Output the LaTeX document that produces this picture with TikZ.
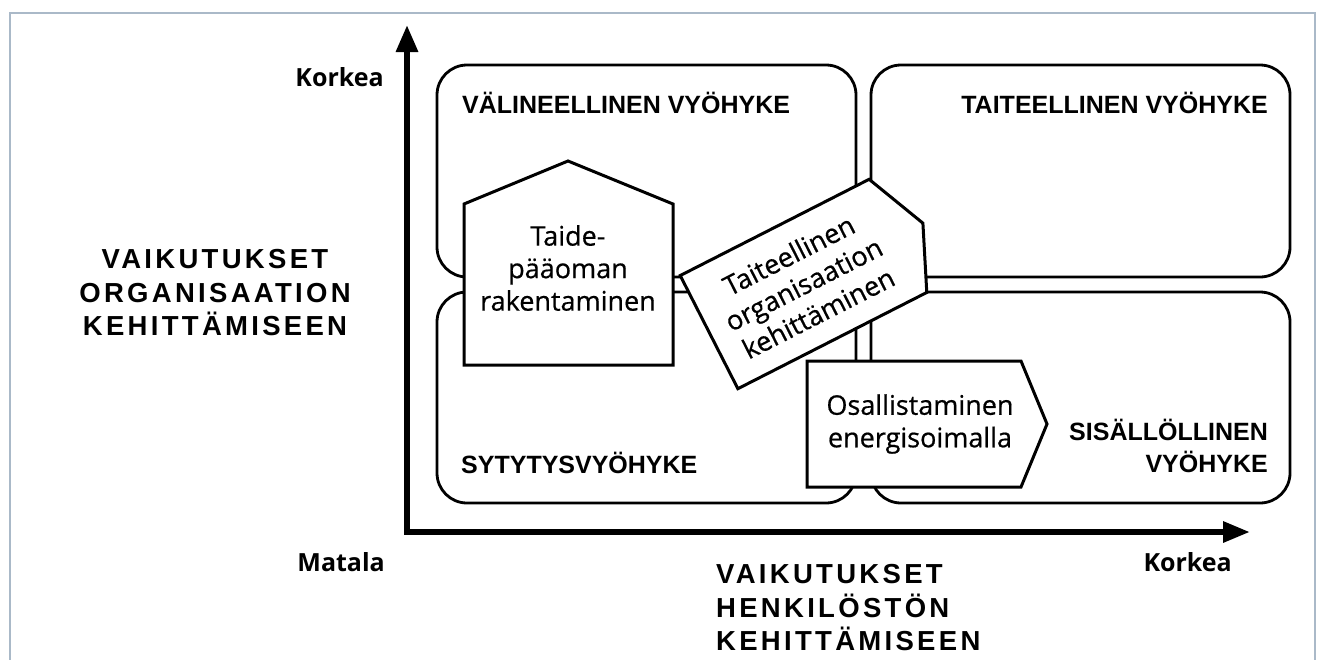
\documentclass[tikz,border=0pt]{standalone}
\usepackage{fontspec}
\setmainfont[FakeBold=0.6]{Open Sans}
\newfontfamily\labfont{Open Sans}
\newfontfamily\zonefont{Liberation Sans}
\newfontfamily\spacedfont[LetterSpace=12]{Liberation Sans}
\usetikzlibrary{arrows.meta}
\definecolor{framegray}{RGB}{170,185,200}
\begin{document}
\begin{tikzpicture}[x=1pt,y=-1pt,
  zone/.style={draw=black, line width=2.8pt, rounded corners=30pt, inner sep=0pt},
  shapebox/.style={draw=black, line width=3pt, fill=white, line join=miter},
  zonelabel/.style={font=\zonefont\bfseries\fontsize{25}{32}\selectfont, inner sep=0pt},
  bodytext/.style={font=\fontsize{27}{32.5}\selectfont, align=center, inner sep=0pt},
  axislabel/.style={font=\labfont\bfseries\fontsize{25}{30}\selectfont, inner sep=0pt},
  axistitle/.style={font=\spacedfont\bfseries\fontsize{27.5}{33.5}\selectfont, inner sep=0pt},
  axis/.style={line width=6pt, line join=miter, {Triangle[length=27pt,width=21pt]}-{Triangle[length=27pt,width=20pt]}}
]
\useasboundingbox (0,0) rectangle (1319,659);
\fill[white] (0,0) rectangle (1319,659);
% outer frame
\draw[framegray, line width=2.5pt] (10,700) -- (10,13) -- (1315,13) -- (1315,700);

% zones
\node[zone, minimum width=419pt, minimum height=212pt] (tl) at (646.5,171) {};
\node[zone, minimum width=419pt, minimum height=212pt] (tr) at (1080.5,171) {};
\node[zone, minimum width=419pt, minimum height=211pt] (bl) at (646.5,397.5) {};
\node[zone, minimum width=419pt, minimum height=211pt] (br) at (1080.5,397.5) {};

% axes
\coordinate (ytip) at (407,25);
\coordinate (origin) at (407,532);
\coordinate (xtip) at (1250,532);
\draw[axis] (ytip) -- (origin) -- (xtip);

% house shape
\draw[shapebox] (464,365) -- (464,204) -- (568,161) -- (673,204) -- (673,365) -- cycle;
\node[bodytext] (taide) at (568,268) {Taide-\\pääoman\\rakentaminen};

% rotated arrow box
\begin{scope}[shift={(803.5,284)}, rotate=27]
  \draw[shapebox] (-106,-63.5) -- (106,-63.5) -- (134,0) -- (106,63.5) -- (-106,63.5) -- cycle;
\end{scope}
\node[bodytext, rotate=27] (org) at (803.5,284) {Taiteellinen\\organisaation\\kehittäminen};

% participation arrow box
\draw[shapebox] (807,361) -- (1021,361) -- (1047,424) -- (1021,487) -- (807,487) -- cycle;
\node[bodytext] (osal) at (920,424) {Osallistaminen\\energisoimalla};

% zone labels
\node[zonelabel, anchor=base west] (lvali) at (462,113) {VÄLINEELLINEN VYÖHYKE};
\node[zonelabel, anchor=base east] (ltait) at (1268,113) {TAITEELLINEN VYÖHYKE};
\node[zonelabel, anchor=base west] (lsyty) at (461,473) {SYTYTYSVYÖHYKE};
\node[zonelabel, anchor=south east, align=right] (lsisa) at (1268,473) {SISÄLLÖLLINEN\\VYÖHYKE};

% axis labels
\node[axislabel, anchor=base east] (ykork) at (384,86) {Korkea};
\node[axislabel, anchor=base east] (matala) at (385,571) {Matala};
\node[axislabel, anchor=base east] (xkork) at (1232,571) {Korkea};

% axis titles
\node[axistitle, anchor=south, align=center] (ytitle) at (215,336) {VAIKUTUKSET\\ORGANISAATION\\KEHITTÄMISEEN};
\node[axistitle, anchor=south west, align=left] (xtitle) at (716,651) {VAIKUTUKSET\\HENKILÖSTÖN\\KEHITTÄMISEEN};
\end{tikzpicture}
\end{document}
